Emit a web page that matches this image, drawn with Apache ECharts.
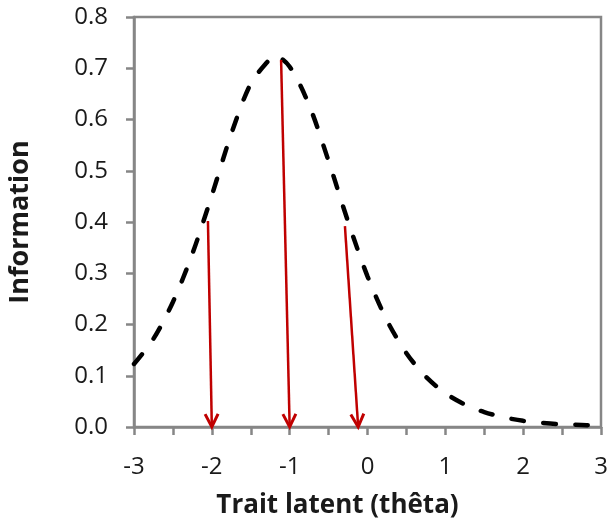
<!DOCTYPE html>
<html><head><meta charset="utf-8">
<script src="https://cdn.jsdelivr.net/npm/echarts@6/dist/echarts.min.js"></script>
<style>html,body{margin:0;padding:0;background:#fff}#c{width:608px;height:525px}</style>
</head><body><div id="c"></div>
<script>
var thetaValues = [-3, -2.75, -2.5, -2.25, -2, -1.75, -1.5, -1.25, -1.2, -1, -0.75, -0.5, -0.25, 0, 0.25, 0.5, 0.75, 1, 1.25, 1.5, 1.75, 2, 2.25, 2.5, 2.75, 2.9];
var infoValues = [0.123, 0.172, 0.244, 0.338, 0.452, 0.572, 0.670, 0.719, 0.725, 0.703, 0.628, 0.519, 0.401, 0.294, 0.208, 0.144, 0.098, 0.066, 0.044, 0.029, 0.019, 0.012, 0.008, 0.005, 0.004, 0.003];
var arrowStartX = [-2.05, -1.11, -0.29];
var arrowStartY = [0.402, 0.716, 0.392];
var arrowEndX = [-2.0, -1.0, -0.12];
var arrowEndY = [0, 0, 0];
var xAxisTitle = 'Trait latent (thêta)';
var yAxisTitle = 'Information';

var curve = thetaValues.map(function (x, i) { return [x, infoValues[i]]; });
var arrows = arrowStartX.map(function (x, i) { return [x, arrowStartY[i], arrowEndX[i], arrowEndY[i]]; });

var chart = echarts.init(document.getElementById('c'), null, {renderer: 'canvas'});
var gray = '#868686';
var font = 'Open Sans';
chart.setOption({
  animation: false,
  grid: {left: 134, right: 7, top: 17, bottom: 98, containLabel: false, outerBoundsMode: 'none',
         show: true, borderColor: gray, borderWidth: 2.5, backgroundColor: 'transparent'},
  xAxis: {
    type: 'value', min: -3, max: 3, interval: 0.5,
    axisLine: {show: true, onZero: false, lineStyle: {color: gray, width: 2.5}},
    axisTick: {show: true, length: 8, lineStyle: {color: gray, width: 2.5}},
    splitLine: {show: false},
    axisLabel: {
      margin: 28, fontFamily: font, fontSize: 24, color: '#1a1a1a',
      formatter: function (v) { return Number.isInteger(v) ? String(v) : ''; }
    },
    name: xAxisTitle, nameLocation: 'middle', nameGap: 66,
    nameTextStyle: {fontFamily: font, fontSize: 26, fontWeight: 'bold', color: '#1a1a1a', padding: [0, 60, 0, 0]}
  },
  yAxis: {
    type: 'value', min: 0, max: 0.8, interval: 0.1,
    axisLine: {show: true, onZero: false, lineStyle: {color: gray, width: 2.5}},
    axisTick: {show: true, length: 8, lineStyle: {color: gray, width: 2.5}},
    splitLine: {show: false},
    axisLabel: {
      margin: 26, fontFamily: font, fontSize: 24, color: '#1a1a1a',
      formatter: function (v) { return v.toFixed(1); }
    },
    name: yAxisTitle, nameLocation: 'middle', nameGap: 100, nameRotate: 90,
    nameTextStyle: {fontFamily: font, fontSize: 27, fontWeight: 'bold', color: '#1a1a1a'}
  },
  series: [
    {
      type: 'line', data: curve, smooth: 0.3, showSymbol: false, symbol: 'none',
      lineStyle: {color: '#000', width: 4.5, type: [12.5, 19.5], cap: 'round'},
      z: 3
    },
    {
      type: 'custom', data: arrows, clip: false, z: 4,
      encode: {x: [0, 2], y: [1, 3]},
      renderItem: function (params, api) {
        var p0 = api.coord([api.value(0), api.value(1)]);
        var p1 = api.coord([api.value(2), api.value(3)]);
        var dx = p1[0] - p0[0], dy = p1[1] - p0[1];
        var len = Math.sqrt(dx * dx + dy * dy);
        var ux = dx / len, uy = dy / len;
        var px = -uy, py = ux;
        var L = 13, W = 6.5;
        var h1 = [p1[0] - ux * L + px * W, p1[1] - uy * L + py * W];
        var h2 = [p1[0] - ux * L - px * W, p1[1] - uy * L - py * W];
        var st = {stroke: '#c00000', lineWidth: 2.5, fill: null};
        return {
          type: 'group',
          children: [
            {type: 'polyline', shape: {points: [p0, [p1[0] - ux * 1, p1[1] - uy * 1]]}, style: st},
            {type: 'polyline', shape: {points: [h1, p1, h2]}, style: {stroke: '#c00000', lineWidth: 3, fill: null, lineJoin: 'miter'}}
          ]
        };
      }
    }
  ]
});
</script></body></html>
